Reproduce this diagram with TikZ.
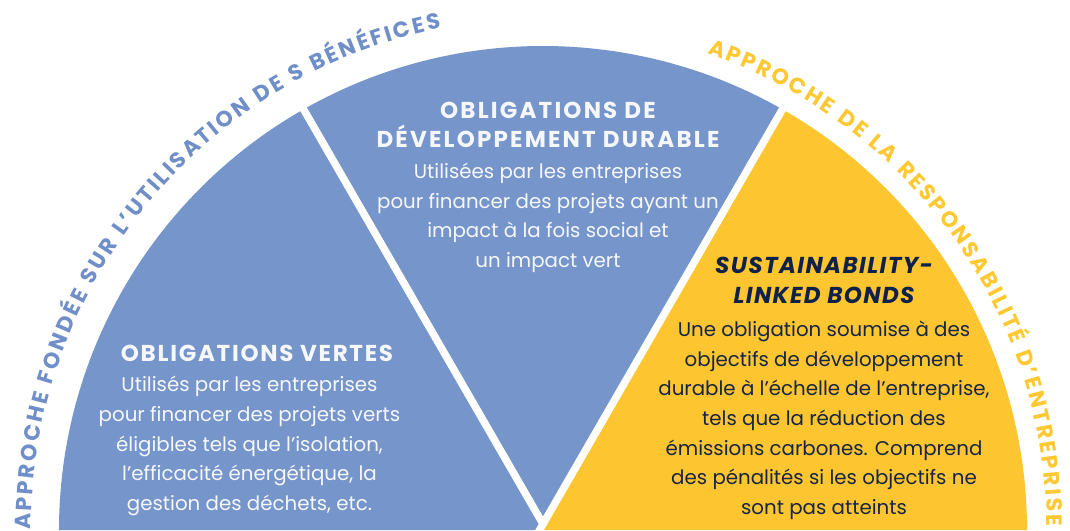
\documentclass[tikz,border=0pt]{standalone}
\usepackage{fontspec}
\setmainfont{Poppins}
\usetikzlibrary{decorations.text,calc}
\definecolor{bluefill}{RGB}{117,149,203}
\definecolor{yellowfill}{RGB}{253,197,47}
\definecolor{bluecurve}{RGB}{112,143,200}
\definecolor{yellowcurve}{RGB}{253,200,50}
\definecolor{navytext}{RGB}{22,36,70}
\definecolor{navytitle}{RGB}{14,33,72}
\definecolor{whitetext}{RGB}{246,247,251}
\newcommand{\curvefont}{\fontsize{22}{26}\selectfont\bfseries}
\begin{document}
\begin{tikzpicture}[x=1pt,y=1pt,
  gapline/.style={white, line width=7.5pt},
  bodytext/.style={font=\fontsize{19.8}{29.7}\selectfont, align=center, inner sep=0pt, anchor=base},
  titletext/.style={font=\fontsize{23}{29.3}\selectfont\bfseries\addfontfeatures{LetterSpace=9.5}, align=center, inner sep=0pt, anchor=base},
  curvetext/.style={decorate, decoration={text along path, text align={fit to path}}}
]
\useasboundingbox (0,0) rectangle (1070,530);
\coordinate (C) at (543,0);
\coordinate (A) at (543,6);
% sectors
\fill[bluefill] (C) -- ++(180:484) arc[start angle=180, end angle=120, radius=484] -- cycle;
\fill[bluefill] (C) -- ++(120:484) arc[start angle=120, end angle=60, radius=484] -- cycle;
\fill[yellowfill] (C) -- ++(60:484) arc[start angle=60, end angle=0, radius=484] -- cycle;
% gaps
\coordinate (g1) at ($(A)+(120:500)$);
\coordinate (g2) at ($(A)+(60:500)$);
\coordinate (g3) at ($(A)+(240:20)$);
\draw[gapline] (g3) -- (A) -- (g1);
\draw[gapline] (A) -- (g2);
% curved texts
\coordinate (ls) at ($(C)+(180:512)$);
\coordinate (rs) at ($(C)+(71:504)$);
\path[curvetext, decoration={text color=bluecurve, text={|\curvefont|APPROCHE FONDÉE SUR L’UTILISATION DE S BÉNÉFICES}}]
  (ls) arc[start angle=180, end angle=101.5, radius=512];
\path[curvetext, decoration={text color=yellowcurve, text={|\curvefont|APPROCHE DE LA RESPONSABILITÉ D’ENTREPRISE}}]
  (rs) arc[start angle=71, end angle=0.5, radius=504];
% left block
\node[titletext, text=whitetext, font=\fontsize{23}{29.3}\selectfont\bfseries\addfontfeatures{LetterSpace=7.5}] (lt) at (257,168) {OBLIGATIONS VERTES};
\node[bodytext, text=whitetext] (lb) at (249.5,19.5) {Utilisés par les entreprises\\pour financer des projets verts\\éligibles tels que l’isolation,\\l’efficacité énergétique, la\\gestion des déchets, etc.};
% middle block
\node[titletext, text=whitetext] (mt) at (548,382) {OBLIGATIONS DE\\DÉVELOPPEMENT DURABLE};
\node[bodytext, text=whitetext] (mb) at (548,262.5) {Utilisées par les entreprises\\pour financer des projets ayant un\\impact à la fois social et\\un impact vert};
% right block
\node[titletext, text=navytitle, font=\fontsize{23}{29.6}\selectfont\bfseries\itshape\addfontfeatures{LetterSpace=6}] (rt) at (824,226.4) {SUSTAINABILITY-\\LINKED BONDS};
\node[bodytext, text=navytext] (rb) at (824,15.5) {Une obligation soumise à des\\objectifs de développement\\durable à l’échelle de l’entreprise,\\tels que la réduction des\\émissions carbones. Comprend\\des pénalités si les objectifs ne\\sont pas atteints};
\end{tikzpicture}
\end{document}
